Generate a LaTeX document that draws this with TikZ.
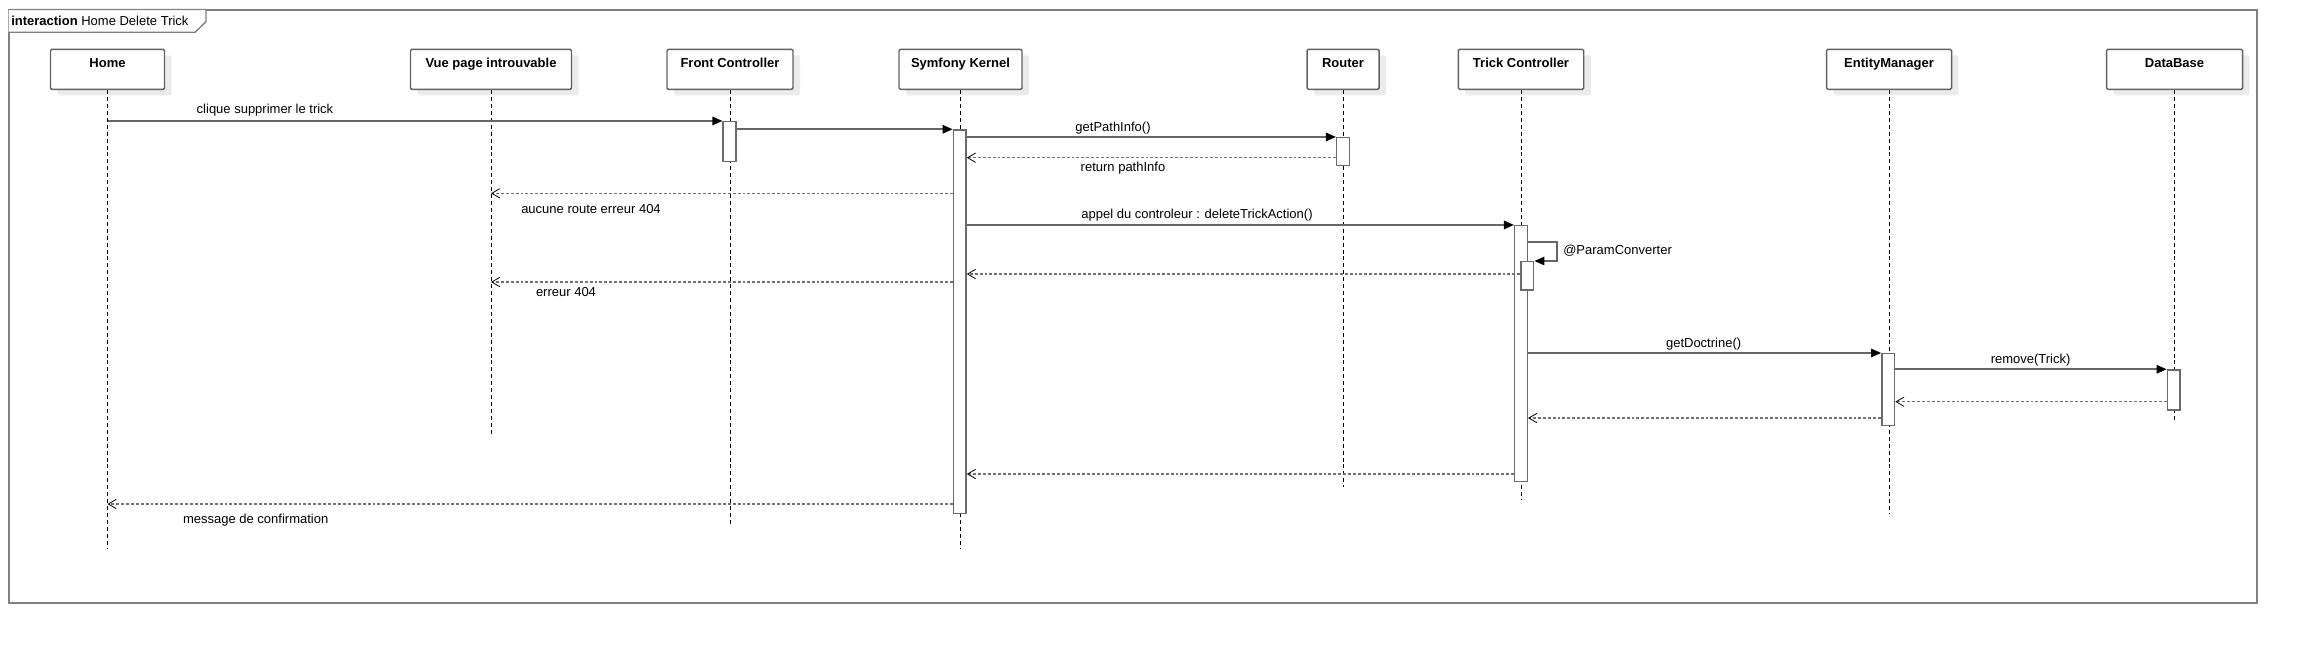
\documentclass[tikz,border=0pt]{standalone}
\usepackage{fontspec}
\setmainfont{Liberation Sans}
\usetikzlibrary{arrows.meta,shadows}
\begin{document}
\begin{tikzpicture}[x=0.75pt,y=-0.75pt,
  font=\fontsize{9.75pt}{11pt}\selectfont,
  head/.style={draw=black!62, line width=1.1pt, fill=white, rounded corners=1pt, inner xsep=0pt, inner ysep=0pt,
    text height=13.65pt, text depth=16.35pt, font=\fontsize{9.75pt}{11pt}\selectfont\bfseries,
    general shadow={fill=black!8, draw=none, shadow xshift=5.25pt, shadow yshift=-4.5pt}},
  act/.style={draw=black!58, line width=1.1pt, fill=white, minimum width=9.5pt, inner sep=0pt},
  life/.style={black, line width=0.6pt, dash pattern=on 3pt off 2.2pt},
  msg/.style={draw=black!60, line width=1.2pt, -{Triangle[length=7.5pt,width=6.3pt,color=black]}},
  ret/.style={draw=black!55, line width=1pt, dash pattern=on 2.2pt off 1.5pt,
    -{Straight Barb[length=6pt,width=7pt,line width=0.6pt,color=black]}},
  lbl/.style={inner sep=0pt}
]
\useasboundingbox (0,0) rectangle (2298,644);
% frame
\draw[draw=black!50, line width=1.5pt] (8.7,9.5) rectangle (2257,603);
\draw[draw=black!50, line width=1pt, fill=white] (8.7,9.5) -- (206,9.5) -- (206,21.7) -- (195,32.3) -- (8.7,32.3);
\node[lbl, anchor=west] (title) at (11,21) {\textbf{interaction} Home Delete Trick};
% heads
\node[head, minimum width=85.5pt]  (hHome) at (107.5,69.3) {Home};
\node[head, minimum width=120.75pt] (hVue)  at (491,69.3) {Vue page introuvable};
\node[head, minimum width=94.5pt]  (hFC)   at (730,69.3) {Front Controller};
\node[head, minimum width=92.25pt] (hK)    at (960.5,69.3) {Symfony Kernel};
\node[head, minimum width=54pt]    (hR)    at (1343,69.3) {Router};
\node[head, minimum width=94.1pt]  (hTC)   at (1521,69.3) {Trick Controller};
\node[head, minimum width=93.75pt] (hEM)   at (1889,69.3) {EntityManager};
\node[head, minimum width=102pt]   (hDB)   at (2174.5,69.3) {DataBase};
% lifeline ends
\coordinate (eHome) at (107.5,547.7);
\coordinate (eVue)  at (491,435);
\coordinate (eFC)   at (730,525);
\coordinate (eK)    at (960.5,547.7);
\coordinate (eR)    at (1343,487.3);
\coordinate (eTC)   at (1521,500);
\coordinate (eEM)   at (1889,513.3);
\coordinate (eDB)   at (2174.5,422.7);
\draw[life] (hHome) -- (eHome);
\draw[life] (hVue) -- (eVue);
\draw[life] (hFC) -- (eFC);
\draw[life] (hK) -- (eK);
\draw[life] (hR) -- (eR);
\draw[life] (hTC) -- (eTC);
\draw[life] (hEM) -- (eEM);
\draw[life] (hDB) -- (eDB);
% activations
\node[act, minimum height=30pt]    (aFC)  at (729.5,141.7) {};
\node[act, minimum height=287.5pt] (aK)   at (959.7,321.65) {};
\node[act, minimum height=21pt]    (aR)   at (1343,151.7) {};
\node[act, minimum height=192pt]   (aTC)  at (1521,353.7) {};
\node[act, minimum height=21.2pt]  (aTC2) at (1527.3,275.85) {};
\node[act, minimum height=53.7pt]  (aEM)  at (1888.2,389.5) {};
\node[act, minimum height=30pt]    (aDB)  at (2173.7,390) {};
% messages
\draw[msg] (hHome |- aFC.north) -- (aFC.north west);
\node[lbl] (m1) at (265,110) {clique supprimer le trick};
\draw[msg] (aFC.east |- aK.north) -- (aK.north west);
\draw[msg] (aK.east |- aR.north) -- (aR.north west);
\node[lbl] (m3) at (1113,128) {getPathInfo()};
\draw[ret] (aR.west |- 0,157.7) -- (aK.east |- 0,157.7);
\node[lbl] (m4) at (1123,168) {return pathInfo};
\draw[ret] (aK.west |- 0,193.3) -- (hVue |- 0,193.3);
\node[lbl] (m5) at (591,209.3) {aucune route erreur 404};
\draw[msg] (aK.east |- aTC.north) -- (aTC.north west);
\node[lbl] (m6) at (1197,215) {appel du controleur : deleteTrickAction()};
\draw[msg] (aTC.east |- 0,241.7) -- ++(29,0) |- (aTC2.north east);
\node[lbl, anchor=west] (m7) at (1563,251) {@ParamConverter};
\draw[ret] (aTC2.west |- 0,274) -- (aK.east |- 0,274);
\draw[ret] (aK.west |- 0,282) -- (hVue |- 0,282);
\node[lbl] (m9) at (566,292) {erreur 404};
\draw[msg] (aTC.east |- aEM.north) -- (aEM.north west);
\node[lbl] (m10) at (1703.6,344) {getDoctrine()};
\draw[msg] (aEM.east |- aDB.north) -- (aDB.north west);
\node[lbl] (m11) at (2030.6,360.3) {remove(Trick)};
\draw[ret] (aDB.west |- 0,401.7) -- (aEM.east |- 0,401.7);
\draw[ret] (aEM.west |- 0,418) -- (aTC.east |- 0,418);
\draw[ret] (aTC.west |- 0,474) -- (aK.east |- 0,474);
\draw[ret] (aK.west |- 0,504) -- (hHome |- 0,504);
\node[lbl] (m15) at (255.7,520) {message de confirmation};
\end{tikzpicture}
\end{document}
